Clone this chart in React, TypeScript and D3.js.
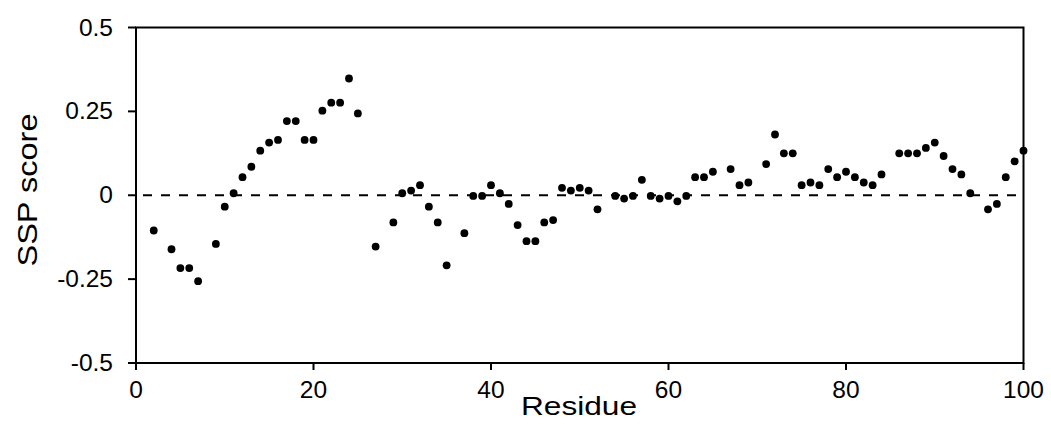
import React from "react";
import * as d3 from "d3";

const residues: number[] = [
  2, 4, 5, 6, 7, 9, 10, 11, 12, 13, 14, 15, 16, 17, 18, 19, 20, 21, 22, 23, 24, 25,
  27, 29, 30, 31, 32, 33, 34, 35, 37, 38, 39, 40, 41, 42, 43, 44, 45, 46, 47, 48, 49, 50,
  51, 52, 54, 55, 56, 57, 58, 59, 60, 61, 62, 63, 64, 65, 67, 68, 69, 71, 72, 73, 74, 75,
  76, 77, 78, 79, 80, 81, 82, 83, 84, 86, 87, 88, 89, 90, 91, 92, 93, 94, 96, 97, 98, 99, 100,
];

const sspScores: number[] = [
  -0.105, -0.161, -0.217, -0.217, -0.256, -0.145, -0.034, 0.006, 0.054, 0.085, 0.133, 0.157,
  0.165, 0.221, 0.221, 0.165, 0.165, 0.252, 0.276, 0.276, 0.348, 0.244,
  -0.153, -0.081, 0.006, 0.014, 0.03, -0.034, -0.081, -0.209, -0.113, -0.002, -0.002, 0.03,
  0.006, -0.026, -0.089, -0.137, -0.137, -0.081, -0.074, 0.022, 0.014, 0.022,
  0.014, -0.042, -0.002, -0.01, -0.002, 0.046, -0.002, -0.01, -0.002, -0.018, -0.002, 0.054,
  0.054, 0.07, 0.078, 0.03, 0.038, 0.093, 0.181, 0.125, 0.125, 0.03,
  0.038, 0.03, 0.078, 0.054, 0.07, 0.054, 0.038, 0.03, 0.062, 0.125, 0.125, 0.125, 0.141,
  0.157, 0.117, 0.078, 0.062, 0.006, -0.042, -0.026, 0.054, 0.101, 0.133,
];

const xTicks: number[] = [0, 20, 40, 60, 80, 100];
const yTicks: number[] = [-0.5, -0.25, 0, 0.25, 0.5];
const yTickLabels: string[] = ["-0.5", "-0.25", "0", "0.25", "0.5"];

const W = 1051;
const H = 440;
const left = 136;
const right = 1023.5;
const top = 27.5;
const bottom = 363;
const font = "'Liberation Sans', Arial, Helvetica, sans-serif";

export default function App() {
  const x = d3.scaleLinear().domain([0, 100]).range([left, right]);
  const y = d3.scaleLinear().domain([-0.5, 0.5]).range([bottom, top]);

  return (
    <svg
      width={W}
      height={H}
      viewBox={`0 0 ${W} ${H}`}
      style={{ position: "absolute", left: 0, top: 0, background: "#fff" }}
    >
      <rect x={0} y={0} width={W} height={H} fill="#fff" />
      {/* zero dashed line */}
      <line
        x1={x(0)}
        x2={x(100)}
        y1={y(0)}
        y2={y(0)}
        stroke="#000"
        strokeWidth={2}
        strokeDasharray="9,9"
        strokeDashoffset={11}
      />
      {/* points */}
      {residues.map((r, i) => (
        <circle key={r} cx={x(r)} cy={y(sspScores[i])} r={3.9} fill="#000" />
      ))}
      {/* frame */}
      <rect
        x={left}
        y={top}
        width={right - left}
        height={bottom - top}
        fill="none"
        stroke="#000"
        strokeWidth={2}
      />
      {/* y ticks */}
      {yTicks.map((t, i) => (
        <g key={t}>
          <line x1={left - 8} x2={left} y1={y(t)} y2={y(t)} stroke="#000" strokeWidth={2} />
          <text
            x={113}
            y={y(t) + 8}
            textAnchor="end"
            fontFamily={font}
            fontSize={24.5}
            fill="#000"
          >
            {yTickLabels[i]}
          </text>
        </g>
      ))}
      {/* x ticks */}
      {xTicks.map((t) => (
        <g key={t}>
          <line x1={x(t)} x2={x(t)} y1={bottom} y2={bottom + 7} stroke="#000" strokeWidth={2} />
          <text
            x={x(t)}
            y={398}
            textAnchor="middle"
            fontFamily={font}
            fontSize={24.5}
            fill="#000"
          >
            {t}
          </text>
        </g>
      ))}
      {/* axis titles */}
      <text
        x={579}
        y={415}
        textAnchor="middle"
        fontFamily={font}
        fontSize={26.5}
        fill="#000"
        textLength={116}
        lengthAdjust="spacingAndGlyphs"
      >
        Residue
      </text>
      <text
        transform={`translate(37,190) rotate(-90)`}
        textAnchor="middle"
        fontFamily={font}
        fontSize={27}
        fill="#000"
        textLength={153}
        lengthAdjust="spacingAndGlyphs"
      >
        SSP score
      </text>
    </svg>
  );
}
